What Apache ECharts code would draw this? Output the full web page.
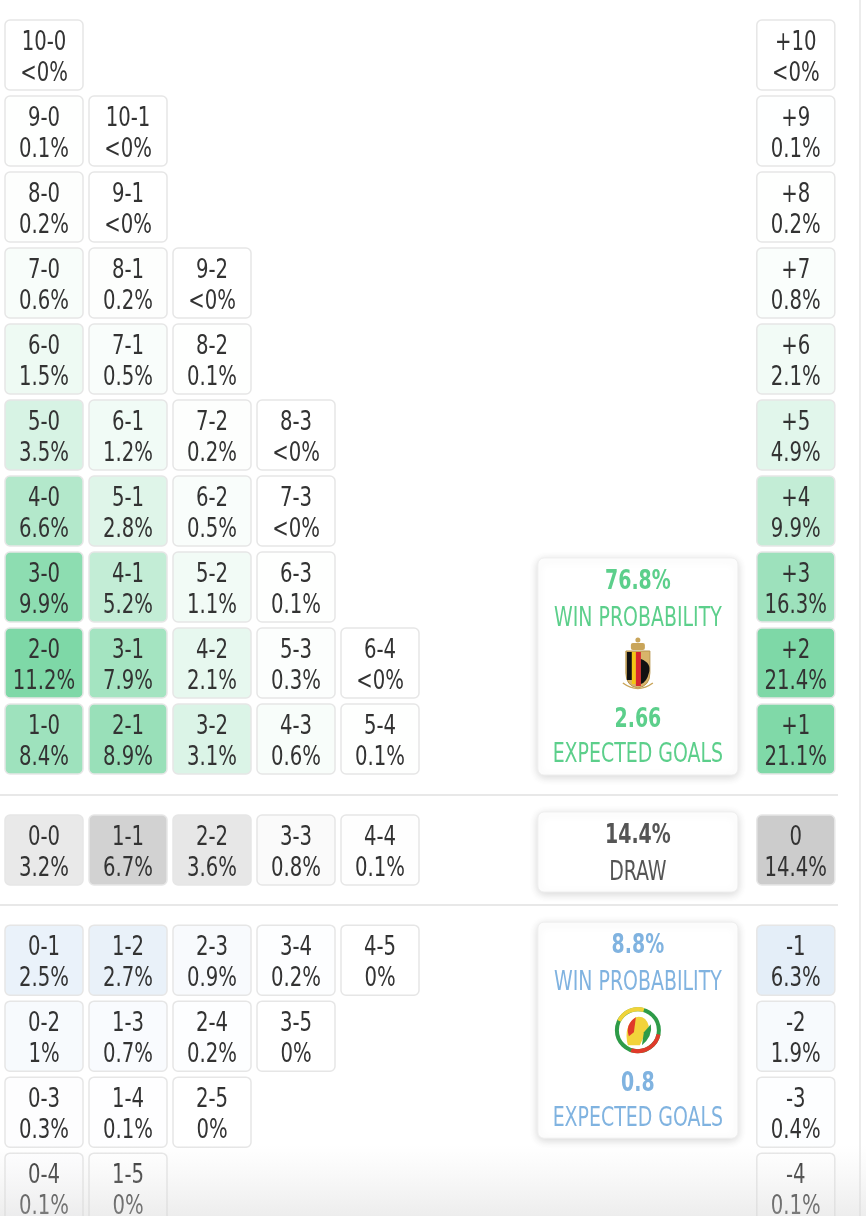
<!DOCTYPE html>
<html>
<head>
<meta charset="utf-8">
<script src="https://cdn.jsdelivr.net/npm/echarts@6/dist/echarts.min.js"></script>
<style>
  html, body { margin: 0; padding: 0; background: #ffffff; }
  #chart { width: 866px; height: 1216px; }
</style>
</head>
<body>
<div id="chart"></div>
<script>
// scorelines where the home side wins, top row to bottom row
const winLabels = [
  ['10-0'],
  ['9-0', '10-1'],
  ['8-0', '9-1'],
  ['7-0', '8-1', '9-2'],
  ['6-0', '7-1', '8-2'],
  ['5-0', '6-1', '7-2', '8-3'],
  ['4-0', '5-1', '6-2', '7-3'],
  ['3-0', '4-1', '5-2', '6-3'],
  ['2-0', '3-1', '4-2', '5-3', '6-4'],
  ['1-0', '2-1', '3-2', '4-3', '5-4'],
];
// null = "<0%"
const winValues = [
  [null],
  [0.1, null],
  [0.2, null],
  [0.6, 0.2, null],
  [1.5, 0.5, 0.1],
  [3.5, 1.2, 0.2, null],
  [6.6, 2.8, 0.5, null],
  [9.9, 5.2, 1.1, 0.1],
  [11.2, 7.9, 2.1, 0.3, null],
  [8.4, 8.9, 3.1, 0.6, 0.1],
];

const drawLabels = ['0-0', '1-1', '2-2', '3-3', '4-4'];
const drawValues = [3.2, 6.7, 3.6, 0.8, 0.1];

const lossLabels = [
  ['0-1', '1-2', '2-3', '3-4', '4-5'],
  ['0-2', '1-3', '2-4', '3-5'],
  ['0-3', '1-4', '2-5'],
  ['0-4', '1-5'],
];
const lossValues = [
  [2.5, 2.7, 0.9, 0.2, 0],
  [1, 0.7, 0.2, 0],
  [0.3, 0.1, 0],
  [0.1, 0],
];

// goal difference column
const marginWinLabels = ['+10', '+9', '+8', '+7', '+6', '+5', '+4', '+3', '+2', '+1'];
const marginWinValues = [null, 0.1, 0.2, 0.8, 2.1, 4.9, 9.9, 16.3, 21.4, 21.1];
const marginDrawLabel = '0';
const marginDrawValue = 14.4;
const marginLossLabels = ['-1', '-2', '-3', '-4'];
const marginLossValues = [6.3, 1.9, 0.4, 0.1];

// summary boxes
const homeWinProb = 76.8;
const homeXg = 2.66;
const drawProb = 14.4;
const awayWinProb = 8.8;
const awayXg = 0.8;

// layout (column / row slots on the hidden axes)
const FONT = "'DejaVu Sans Condensed', 'DejaVu Sans', sans-serif";
const CELL_FONT_SIZE = 27;
const BOX_FONT_SIZE = 26;
const NARROW = 0.81; // squeeze the glyphs horizontally, the original face is narrower
const MARGIN_COL = 8.95;
const BOX_COL = 7.07;
const DRAW_SLOT = 10.46;
const LOSS_SLOT = 11.91;

const GREEN = [76, 201, 133];
const BLUE = [127, 177, 223];
const GREY = [150, 150, 150];

function tint(rgb, v, max) {
  const a = v ? Math.min(1, v / max) * 0.72 : 0;
  const c = rgb.map(ch => Math.round(255 - a * (255 - ch)));
  return `rgb(${c[0]},${c[1]},${c[2]})`;
}
function pctText(v) {
  return v === null ? '<0%' : v + '%';
}

const cells = [];
winLabels.forEach((row, r) => {
  row.forEach((lab, c) => {
    cells.push({ value: [c, r], label: lab, pct: winValues[r][c], fill: tint(GREEN, winValues[r][c], 11.2) });
  });
});
drawLabels.forEach((lab, c) => {
  cells.push({ value: [c, DRAW_SLOT], label: lab, pct: drawValues[c], fill: tint(GREY, drawValues[c], 11.2) });
});
lossLabels.forEach((row, r) => {
  row.forEach((lab, c) => {
    cells.push({ value: [c, LOSS_SLOT + r], label: lab, pct: lossValues[r][c], fill: tint(BLUE, lossValues[r][c], 11.2) });
  });
});
marginWinLabels.forEach((lab, r) => {
  cells.push({ value: [MARGIN_COL, r], label: lab, pct: marginWinValues[r], fill: tint(GREEN, marginWinValues[r], 21.4) });
});
cells.push({ value: [MARGIN_COL, DRAW_SLOT], label: marginDrawLabel, pct: marginDrawValue, fill: tint(GREY, marginDrawValue, 21.4) });
marginLossLabels.forEach((lab, r) => {
  cells.push({ value: [MARGIN_COL, LOSS_SLOT + r], label: lab, pct: marginLossValues[r], fill: tint(BLUE, marginLossValues[r], 21.4) });
});

const boxes = [
  { value: [BOX_COL, 7], dy: 6, h: 217, kind: 'home', color: '#5ccf8b', prob: homeWinProb, xg: homeXg },
  { value: [BOX_COL, DRAW_SLOT], dy: -3, h: 80, kind: 'draw', color: '#555555', prob: drawProb },
  { value: [BOX_COL, LOSS_SLOT], dy: -3, h: 216, kind: 'away', color: '#80b3e0', prob: awayWinProb, xg: awayXg },
];

function narrowText(text, x, y, style) {
  return {
    type: 'text',
    x: x,
    y: y,
    scaleX: NARROW,
    style: Object.assign({ text: text, x: 0, y: 0, align: 'center', verticalAlign: 'middle', fontFamily: FONT }, style),
  };
}

function renderCell(params, api) {
  const item = cells[params.dataIndex];
  const p = api.coord([api.value(0), api.value(1)]);
  const s = api.size([1, 1]);
  const w = s[0] - 6, h = s[1] - 6;
  const ts = { fontSize: CELL_FONT_SIZE, fill: '#333333' };
  return {
    type: 'group',
    children: [
      {
        type: 'rect',
        shape: { x: p[0] - w / 2, y: p[1] - h / 2, width: w, height: h, r: 5 },
        style: { fill: item.fill, stroke: '#e6e6e6', lineWidth: 1.5 },
      },
      narrowText(item.label, p[0], p[1] - 12, ts),
      narrowText(pctText(item.pct), p[0], p[1] + 19, ts),
    ],
  };
}

function belgiumCrest(cx, cy) {
  return [
    // crown
    { type: 'rect', shape: { x: cx - 7, y: cy - 24, width: 14, height: 7, r: 2 }, style: { fill: '#c9a55a' } },
    { type: 'circle', shape: { cx: cx, cy: cy - 27, r: 2.5 }, style: { fill: '#c9a55a' } },
    // shield
    { type: 'path', shape: { pathData: `M${cx - 12},${cy - 16} L${cx + 12},${cy - 16} L${cx + 12},${cy + 6} Q${cx + 12},${cy + 19} ${cx},${cy + 21} Q${cx - 12},${cy + 19} ${cx - 12},${cy + 6} Z` }, style: { fill: '#d8b46a', stroke: '#b8954d', lineWidth: 1 } },
    { type: 'rect', shape: { x: cx - 11, y: cy - 15, width: 5, height: 28 }, style: { fill: '#111111' } },
    { type: 'rect', shape: { x: cx - 6, y: cy - 15, width: 4, height: 32 }, style: { fill: '#f3c614' } },
    { type: 'rect', shape: { x: cx - 2, y: cy - 15, width: 5, height: 34 }, style: { fill: '#d8262e' } },
    { type: 'path', shape: { pathData: `M${cx + 3},${cy - 8} Q${cx + 14},${cy - 4} ${cx + 11},${cy + 6} Q${cx + 9},${cy + 15} ${cx + 3},${cy + 17} Z` }, style: { fill: '#111111' } },
    // laurels
    { type: 'path', shape: { pathData: `M${cx - 15},${cy + 16} Q${cx},${cy + 27} ${cx + 15},${cy + 16}` }, style: { fill: 'none', stroke: '#c9a55a', lineWidth: 1.5 } },
  ];
}

function senegalCrest(cx, cy) {
  return [
    { type: 'circle', shape: { cx: cx, cy: cy, r: 21 }, style: { fill: '#ffffff', stroke: '#2e9b48', lineWidth: 4 } },
    { type: 'arc', shape: { cx: cx, cy: cy, r: 21, startAngle: 0.2, endAngle: 1.9 }, style: { stroke: '#e03a2a', lineWidth: 4, fill: 'none' } },
    { type: 'arc', shape: { cx: cx, cy: cy, r: 21, startAngle: 3.6, endAngle: 5.0 }, style: { stroke: '#f0d33a', lineWidth: 4, fill: 'none' } },
    { type: 'path', shape: { pathData: `M${cx - 10},${cy + 15} Q${cx - 15},${cy - 4} ${cx - 2},${cy - 13} Q${cx + 8},${cy - 15} ${cx + 11},${cy - 4} Q${cx + 6},${cy + 6} ${cx + 2},${cy + 15} Z` }, style: { fill: '#f2d33b' } },
    { type: 'path', shape: { pathData: `M${cx - 2},${cy - 13} Q${cx - 13},${cy - 6} ${cx - 9},${cy + 6} L${cx - 4},${cy + 2} Z` }, style: { fill: '#e03a2a' } },
    { type: 'path', shape: { pathData: `M${cx + 4},${cy + 15} Q${cx + 15},${cy + 6} ${cx + 13},${cy - 6} L${cx + 6},${cy + 2} Z` }, style: { fill: '#2e9b48' } },
  ];
}

function renderBox(params, api) {
  const b = boxes[params.dataIndex];
  const p = api.coord([api.value(0), api.value(1)]);
  const s = api.size([1, 1]);
  const w = 200;
  const top = p[1] - (s[1] - 6) / 2 + b.dy;
  const x = p[0];
  const bold = { fontSize: BOX_FONT_SIZE, fontWeight: 'bold', fill: b.color };
  const thin = { fontSize: BOX_FONT_SIZE, fill: b.color };
  const children = [
    {
      type: 'rect',
      shape: { x: x - w / 2, y: top, width: w, height: b.h, r: 6 },
      style: { fill: '#ffffff', stroke: '#efefef', lineWidth: 1, shadowBlur: 8, shadowOffsetY: 2, shadowColor: 'rgba(0,0,0,0.16)' },
    },
    narrowText(b.prob + '%', x, top + 24, bold),
  ];
  if (b.kind === 'draw') {
    children.push(narrowText('DRAW', x, top + 61, thin));
  } else {
    children.push(narrowText('WIN PROBABILITY', x, top + 61, thin));
    const logo = b.kind === 'home' ? belgiumCrest(x, top + 109) : senegalCrest(x, top + 108);
    logo.forEach(el => children.push(el));
    children.push(narrowText(String(b.xg), x, top + 162, bold));
    children.push(narrowText('EXPECTED GOALS', x, top + 197, thin));
  }
  return { type: 'group', children };
}

const chart = echarts.init(document.getElementById('chart'));

chart.setOption({
  animation: false,
  backgroundColor: '#ffffff',
  grid: { left: 2, top: 17, width: 840, height: 1197 },
  xAxis: { type: 'value', min: -0.5, max: 9.5, show: false },
  yAxis: { type: 'value', min: -0.5, max: 15.25, inverse: true, show: false },
  graphic: [
    { type: 'line', shape: { x1: 0, y1: 795, x2: 838, y2: 795 }, style: { stroke: '#e8e8e8', lineWidth: 2 }, z: 0 },
    { type: 'line', shape: { x1: 0, y1: 905, x2: 838, y2: 905 }, style: { stroke: '#e8e8e8', lineWidth: 2 }, z: 0 },
    { type: 'line', shape: { x1: 860, y1: 0, x2: 860, y2: 1216 }, style: { stroke: '#ececec', lineWidth: 2 }, z: 0 },
    {
      type: 'rect',
      shape: { x: 0, y: 1145, width: 866, height: 71 },
      style: {
        fill: new echarts.graphic.LinearGradient(0, 0, 0, 1, [
          { offset: 0, color: 'rgba(225,225,225,0)' },
          { offset: 1, color: 'rgba(215,215,215,0.45)' },
        ]),
      },
      z: 100,
    },
  ],
  series: [
    {
      type: 'custom',
      renderItem: renderCell,
      data: cells.map(c => c.value),
      clip: false,
    },
    {
      type: 'custom',
      renderItem: renderBox,
      data: boxes.map(b => b.value),
      clip: false,
    },
  ],
});

window.addEventListener('resize', () => chart.resize());
</script>
</body>
</html>
